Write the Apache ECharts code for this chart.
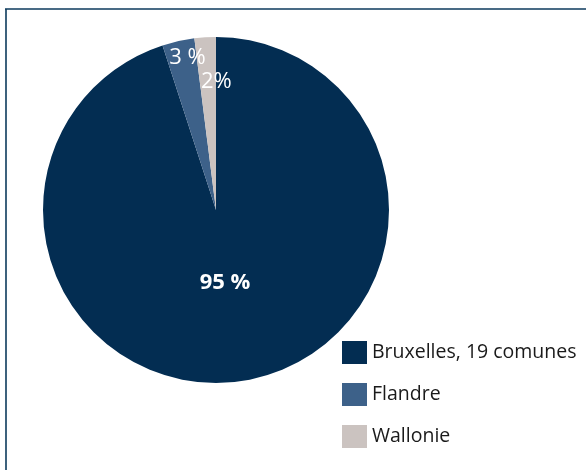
<!DOCTYPE html>
<html>
<head>
<meta charset="utf-8">
<script src="https://cdn.jsdelivr.net/npm/echarts@6/dist/echarts.min.js"></script>
<style>
  html, body { margin: 0; padding: 0; background: #ffffff; }
  #chart { width: 586px; height: 470px; }
</style>
</head>
<body>
<div id="chart"></div>
<script>
// Répartition par région (en %)
const regions = ['Bruxelles, 19 comunes', 'Flandre', 'Wallonie'];
const shares = [95, 3, 2];
const colors = ['#032d52', '#3d6189', '#cbc3c0'];

// Per-slice label tweaks: nudge (pixels), weight, gap before the % sign
const labelShift = [[-5, -16], [-9, -65], [6, -39]];
const labelBold = ['bold', 'normal', 'normal'];
const percentGap = [' ', ' ', ''];

const chart = echarts.init(document.getElementById('chart'), null, { renderer: 'canvas' });

chart.setOption({
  backgroundColor: '#ffffff',
  animation: false,
  color: colors,
  textStyle: { fontFamily: 'Open Sans' },
  graphic: [
    { type: 'line', shape: { x1: 5, y1: 9, x2: 586, y2: 9 }, style: { stroke: '#0d3a5c', lineWidth: 1.6 } },
    { type: 'line', shape: { x1: 6, y1: 9, x2: 6, y2: 470 }, style: { stroke: '#0d3a5c', lineWidth: 1.6 } }
  ],
  legend: {
    orient: 'vertical',
    left: 342,
    top: 341,
    padding: 0,
    itemWidth: 25,
    itemHeight: 23,
    itemGap: 19,
    icon: 'rect',
    selectedMode: false,
    data: regions,
    textStyle: { fontSize: 19.5, color: '#1a1a1a', fontFamily: 'Open Sans', padding: [0, 0, 0, 0] }
  },
  series: [{
    type: 'pie',
    center: [216, 210],
    radius: [0, 173],
    startAngle: 90,
    clockwise: true,
    silent: true,
    data: regions.map((name, i) => ({
      name: name,
      value: shares[i],
      label: { fontWeight: labelBold[i] }
    })),
    label: {
      show: true,
      position: 'inside',
      formatter: p => p.value + percentGap[p.dataIndex] + '%',
      color: '#ffffff',
      fontSize: 22,
      fontFamily: 'Open Sans'
    },
    labelLine: { show: false },
    labelLayout: function (p) {
      const s = labelShift[p.dataIndex];
      return { dx: s[0], dy: s[1] };
    },
    itemStyle: { borderWidth: 0 }
  }]
});
</script>
</body>
</html>
